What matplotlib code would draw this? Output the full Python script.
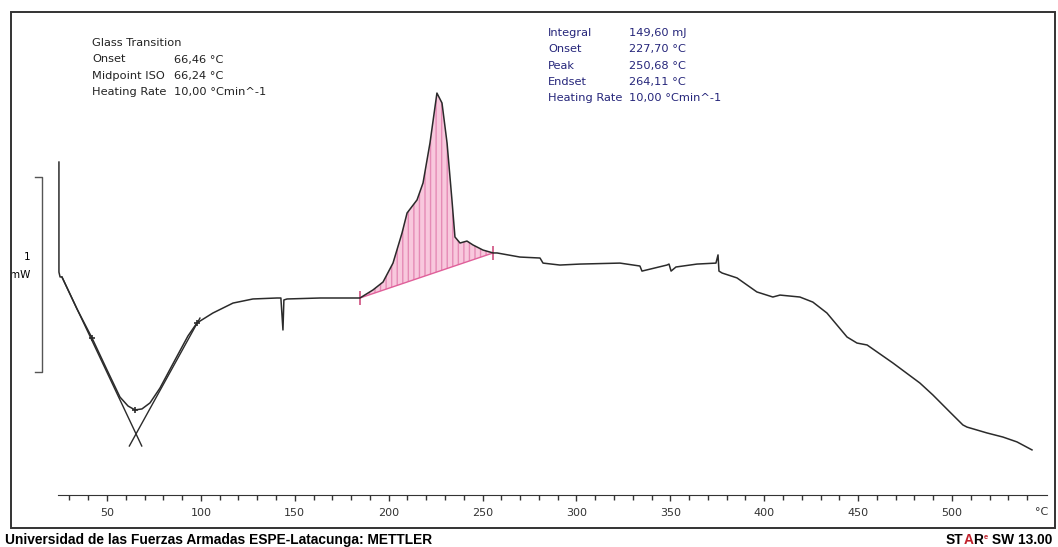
import numpy as np
import matplotlib.pyplot as plt
from matplotlib.patches import Rectangle

# Curva DSC: temperatura (°C) y flujo de calor (mW)
temp = [24.4, 24.4, 25.0, 26.0, 34.0, 42.0, 50.0, 56.9, 61.2, 64.9, 68.6, 72.9,
        78.2, 86.2, 93.1, 97.9, 106.4, 117.1, 127.7, 140.5, 142.6, 143.7, 144.2,
        145.9, 163.5, 184.7, 191.6, 197.0, 202.3, 207.1, 209.8, 215.1, 218.3,
        222.0, 225.7, 228.4, 231.1, 233.7, 235.3, 238.0, 241.7, 244.9, 250.2,
        255.6, 257.7, 269.9, 280.6, 282.2, 291.2, 301.9, 323.2, 333.8, 334.9,
        348.2, 349.3, 350.4, 353.0, 364.2, 374.3, 375.4, 375.9, 377.6, 385.5,
        396.1, 404.6, 408.4, 419.0, 425.9, 433.4, 444.1, 449.4, 454.8, 468.5,
        482.9, 489.8, 498.9, 505.8, 508.0, 518.6, 527.1, 534.6, 542.6]
flujo = [0.697, 0.133, 0.108, 0.108, -0.056, -0.205, -0.369, -0.508, -0.554,
         -0.574, -0.569, -0.538, -0.462, -0.318, -0.195, -0.128, -0.077, -0.026,
         -0.005, 0.0, 0.0, -0.164, -0.010, -0.005, 0.0, 0.0, 0.041, 0.082, 0.179,
         0.333, 0.436, 0.503, 0.590, 0.795, 1.051, 1.000, 0.795, 0.503, 0.313,
         0.282, 0.292, 0.272, 0.246, 0.231, 0.231, 0.210, 0.205, 0.179, 0.169,
         0.174, 0.179, 0.164, 0.138, 0.169, 0.174, 0.138, 0.159, 0.174, 0.179,
         0.221, 0.138, 0.128, 0.103, 0.031, 0.005, 0.015, 0.005, -0.021, -0.077,
         -0.200, -0.231, -0.241, -0.333, -0.436, -0.497, -0.585, -0.651, -0.662,
         -0.692, -0.713, -0.738, -0.779]

# Tangentes de la transicion vitrea
tang_izq_t = [26.0, 68.5]
tang_izq_f = [0.108, -0.759]
tang_der_t = [99.5, 61.9]
tang_der_f = [-0.103, -0.759]

# Puntos de evaluacion de Tg
tg_t = [42.0, 64.9, 97.9]
tg_f = [-0.205, -0.574, -0.128]

# Limites de integracion del pico
lim_t = [184.7, 255.6]
lim_f = [0.0, 0.231]

ticks_mayores = [50, 100, 150, 200, 250, 300, 350, 400, 450, 500]
ticks_menores = list(range(30, 550, 10))

etiquetas_tg = ["Glass Transition", "Onset", "Midpoint ISO", "Heating Rate"]
valores_tg = ["", "66,46 °C", "66,24 °C", "10,00 °Cmin^-1"]
etiquetas_pico = ["Integral", "Onset", "Peak", "Endset", "Heating Rate"]
valores_pico = ["149,60 mJ", "227,70 °C", "250,68 °C", "264,11 °C", "10,00 °Cmin^-1"]

W, H = 1058, 547
fig = plt.figure(figsize=(W / 100, H / 100), dpi=100)
ax = fig.add_axes([58 / W, 52 / H, 989 / W, 483 / H])
ax.set_xlim(23.9, 550.6)
ax.set_ylim(-1.0103, 1.4667)

t = np.array(temp)
f = np.array(flujo)

# area del pico sobre la linea base
m = (t >= lim_t[0]) & (t <= lim_t[1])
base = np.interp(t[m], lim_t, lim_f)
ax.fill_between(t[m], base, f[m], facecolor='#f8c8dd', edgecolor='#e58bb6',
                hatch='|||', linewidth=0)
ax.plot(lim_t, lim_f, color='#e0609a', lw=1)
ax.plot(lim_t, lim_f, ls='none', marker='|', ms=10, mew=1.2, color='#d05080')

# curva
ax.plot(t, f, color='#2b2b2b', lw=1.1, clip_on=False)
ax.plot(tang_izq_t, tang_izq_f, color='#2b2b2b', lw=1)
ax.plot(tang_der_t, tang_der_f, color='#2b2b2b', lw=1)
ax.plot(tg_t, tg_f, ls='none', marker='+', ms=5, mew=1.2, color='#2b2b2b')

# barra de escala 1 mW
ax.plot([11.7, 15.4, 15.4, 11.7], [0.621, 0.621, -0.379, -0.379],
        color='#555555', lw=1, clip_on=False)
ax.text(7.4, 0.21, "1", fontsize=7.5, ha='center', va='center', clip_on=False)
ax.text(3.7, 0.118, "mW", fontsize=7.5, ha='center', va='center', clip_on=False)

# eje de temperatura
for s in ['left', 'right', 'top']:
    ax.spines[s].set_visible(False)
ax.spines['bottom'].set_color('#333333')
ax.set_yticks([])
ax.set_xticks(ticks_mayores)
ax.set_xticks([x for x in ticks_menores if x not in ticks_mayores], minor=True)
ax.tick_params(axis='x', which='major', direction='out', length=4.5, width=1,
               labelsize=8, pad=5, colors='#333333')
ax.tick_params(axis='x', which='minor', direction='out', length=3.5, width=1,
               colors='#333333')
ax.text(548, -0.036, "°C", fontsize=8, ha='center', va='center', color='#333333',
        transform=ax.get_xaxis_transform(), clip_on=False)

# marco
fig.add_artist(Rectangle((11 / W, 1 - 528 / H), 1044 / W, 516 / H,
                         transform=fig.transFigure, fill=False,
                         ec='#333333', lw=1.4))

# resultados de la evaluacion
for i, (a, b) in enumerate(zip(etiquetas_tg, valores_tg)):
    y = 1 - (43 + 16.5 * i) / H
    fig.text(92 / W, y, a, fontsize=8.2, va='center', color='#222222')
    fig.text(174 / W, y, b, fontsize=8.2, va='center', color='#222222')
for i, (a, b) in enumerate(zip(etiquetas_pico, valores_pico)):
    y = 1 - (33 + 16.3 * i) / H
    fig.text(548 / W, y, a, fontsize=8.2, va='center', color='#25257a')
    fig.text(629 / W, y, b, fontsize=8.2, va='center', color='#25257a')

# pie
pie = dict(fontweight='bold', family='Liberation Sans')
fig.text(5 / W, 1 - 540 / H, "Universidad de las Fuerzas Armadas ESPE-Latacunga: METTLER",
         fontsize=9.9, va='center', **pie)
st = fig.text(946 / W, 1 - 540 / H, "ST", fontsize=9.9, va='center', **pie)
a = ax.annotate("A", xy=(1, 0), xycoords=st, va='bottom', ha='left',
                fontsize=9.9, color='#c0202a', annotation_clip=False, **pie)
r = ax.annotate("R", xy=(1, 0), xycoords=a, va='bottom', ha='left',
                fontsize=9.9, color='black', annotation_clip=False, **pie)
e = ax.annotate("e", xy=(1, 0.45), xycoords=r, va='bottom', ha='left',
                fontsize=5.5, color='#c0202a', annotation_clip=False, **pie)
ax.annotate(" SW 13.00", xy=(1, 0), xycoords=(e, r), va='bottom', ha='left',
            fontsize=9.9, color='black', annotation_clip=False, **pie)

fig.savefig('out.png', dpi=100)
